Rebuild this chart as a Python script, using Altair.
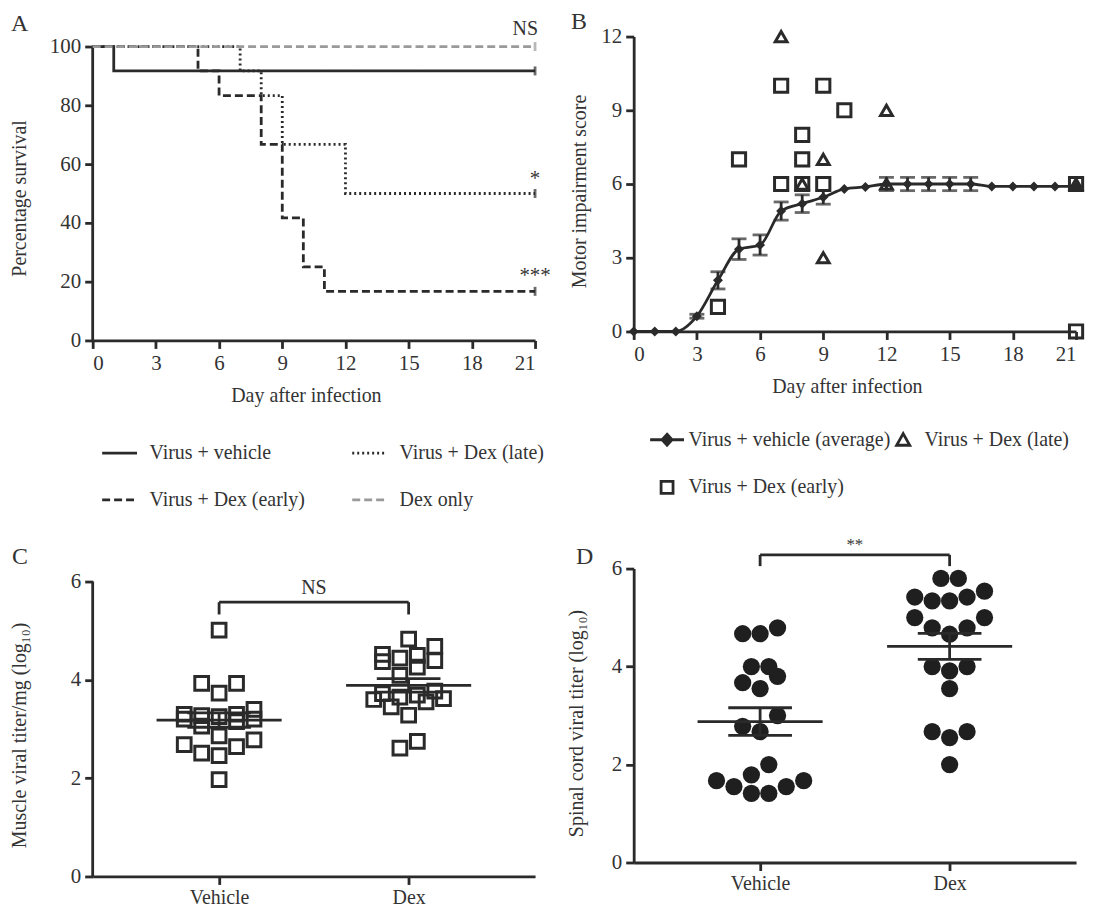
import altair as alt
import pandas as pd

FONT = "Liberation Serif"
INK = "#2a2a2a"
TXT = "#333333"
GRAY = "#9a9a9a"

# ---------------- Panel A: survival ----------------
a_series = ["Virus + vehicle", "Virus + Dex (early)", "Virus + Dex (late)", "Dex only"]
a_vehicle_day = [0, 1, 21]
a_vehicle_pct = [100, 91.7, 91.7]
a_late_day = [0, 7, 8, 9, 12, 21]
a_late_pct = [100, 91.7, 83.3, 66.7, 50.0, 50.0]
a_early_day = [0, 5, 6, 8, 9, 10, 11, 21]
a_early_pct = [100, 91.7, 83.3, 66.7, 41.7, 25.0, 16.7, 16.7]
a_dex_day = [0, 21]
a_dex_pct = [100, 100]
a_sig = {"Virus + Dex (late)": "*", "Virus + Dex (early)": "***", "Dex only": "NS"}

# ---------------- Panel B: motor score ----------------
b_series = ["Virus + vehicle (average)", "Virus + Dex (early)", "Virus + Dex (late)"]
b_day = list(range(22))
b_avg = [0, 0, 0, 0.62, 2.08, 3.35, 3.52, 4.9, 5.2, 5.46, 5.8, 5.88,
         6.0, 6.0, 6.0, 6.0, 6.0, 5.9, 5.9, 5.9, 5.9, 5.9]
b_sem = [0, 0, 0, 0.08, 0.35, 0.42, 0.41, 0.37, 0.36, 0.28, 0, 0,
         0.27, 0.27, 0.27, 0.27, 0.27, 0, 0, 0, 0, 0]
b_early_day = [4, 5, 7, 7, 8, 8, 8, 9, 9, 10, 21, 21]
b_early_score = [1, 7, 10, 6, 8, 7, 6, 10, 6, 9, 6, 0]
b_late_day = [7, 8, 9, 9, 12, 12, 21]
b_late_score = [12, 6, 7, 3, 9, 6, 6]

# ---------------- Panels C / D: viral titers ----------------
groups = ["Vehicle", "Dex"]
c_vehicle = [5.01, 3.93, 3.93, 3.73, 3.40, 3.30, 3.27, 3.30, 3.25, 3.20,
             3.15, 3.20, 3.06, 2.86, 2.68, 2.78, 2.64, 2.51, 2.46, 1.97]
c_dex = [4.83, 4.68, 4.52, 4.50, 4.44, 4.39, 4.37, 4.26, 4.09, 3.77,
         3.72, 3.69, 3.65, 3.62, 3.60, 3.55, 3.45, 3.28, 2.75, 2.61]
d_vehicle = [4.79, 4.67, 4.67, 4.00, 4.00, 3.80, 3.67, 3.55, 3.00, 2.78,
             2.67, 2.00, 1.79, 1.67, 1.67, 1.55, 1.55, 1.41, 1.41]
d_dex = [5.80, 5.80, 5.54, 5.42, 5.42, 5.34, 5.34, 5.00, 5.00, 4.79,
         4.79, 4.66, 4.00, 4.00, 3.91, 3.55, 2.67, 2.67, 2.55, 2.00]
c_bracket = {"top": 5.58, "foot": 5.33, "label": "NS"}
d_bracket = {"top": 6.28, "foot": 6.05, "label": "**"}

# ---------------- layout constants ----------------
W1, W2 = 444, 444
HA, HB, HC, HD = 305, 296, 309, 295
A_YMAX = 100 * HA / 295.0
C_YMAX = 6 * HC / 296.0
DOT_UNIT = 0.046      # horizontal step of the dot-plot layout (group units)
BIN = 0.345           # value range grouped into one row of the dot plot
LW = 2.8              # line width
FS_TICK, FS_TITLE, FS_LEG = 21, 20, 20


def prism_offsets(vals):
    order = sorted(range(len(vals)), key=lambda i: vals[i])
    bins, cur = [], []
    for i in order:
        if cur and vals[i] - vals[cur[0]] > BIN:
            bins.append(cur)
            cur = []
        cur.append(i)
    if cur:
        bins.append(cur)
    offs = [0] * len(vals)
    for b in bins:
        n = len(b)
        if n % 2:
            pat = [0] + [s * k for k in range(2, n + 1, 2) for s in (-1, 1)]
        else:
            pat = [s * k for k in range(1, n + 1, 2) for s in (-1, 1)]
        for i, p in zip(b, pat):
            offs[i] = p
    return offs


def letter(ch, x, y):
    return alt.Chart(pd.DataFrame({"p": [ch]})).mark_text(
        font=FONT, fontSize=24, color=TXT, align="left", baseline="alphabetic"
    ).encode(x=alt.value(x), y=alt.value(y), text="p:N")


# ======================= Panel A =======================
rows = []
for s, days, pcts in [("Virus + vehicle", a_vehicle_day, a_vehicle_pct),
                      ("Virus + Dex (late)", a_late_day, a_late_pct),
                      ("Virus + Dex (early)", a_early_day, a_early_pct),
                      ("Dex only", a_dex_day, a_dex_pct)]:
    for d, p in zip(days, pcts):
        rows.append({"series": s, "day": d, "pct": p})
df_a = pd.DataFrame(rows)
df_a_end = df_a.groupby("series", as_index=False).last()
df_a_end["sig"] = df_a_end["series"].map(a_sig).fillna("")

xa_scale = alt.Scale(domain=[0, 21], nice=False, zero=False)
ya_scale = alt.Scale(domain=[0, A_YMAX], nice=False)
xa_axis = alt.Axis(values=list(range(0, 22, 3)), title="Day after infection",
                   titleY=55, titleBaseline="middle", titleX=214)
ya_axis = alt.Axis(values=[0, 20, 40, 60, 80, 100], domain=False,
                   title="Percentage survival", titleAngle=270,
                   titleX=-73, titleY=162, titleAlign="center", titleBaseline="middle")


def XA(f):
    return alt.X(f, type="quantitative", scale=xa_scale, axis=xa_axis)


def YA(f):
    return alt.Y(f, type="quantitative", scale=ya_scale, axis=ya_axis)


leg_a = alt.Legend(orient="none", legendX=8, legendY=399, columns=2, title=None,
                   symbolType="stroke", symbolSize=1225, symbolStrokeWidth=LW,
                   columnPadding=40, rowPadding=18, labelOffset=11, labelLimit=400,
                   labelFont=FONT, labelFontSize=FS_LEG, labelColor=TXT)

a_lines = alt.Chart(df_a).mark_line(interpolate="step-after", strokeWidth=LW).encode(
    x=XA("day"), y=YA("pct"),
    color=alt.Color("series:N", scale=alt.Scale(domain=a_series, range=[INK, INK, INK, GRAY]),
                    legend=leg_a),
    strokeDash=alt.StrokeDash("series:N", scale=alt.Scale(domain=a_series,
                              range=[[1, 0], [8, 4], [2, 3], [8, 4]]), legend=leg_a),
)
a_ticks_k = alt.Chart(df_a_end[df_a_end["series"] != "Dex only"]).mark_tick(
    orient="vertical", size=9, thickness=LW, color=INK).encode(x=XA("day"), y=YA("pct"))
a_ticks_g = alt.Chart(df_a_end[df_a_end["series"] == "Dex only"]).mark_tick(
    orient="vertical", size=9, thickness=LW, color=GRAY).encode(x=XA("day"), y=YA("pct"))
a_sig_star = alt.Chart(df_a_end[df_a_end["sig"].str.startswith("*")]).mark_text(
    font=FONT, fontSize=21, color=TXT, align="center", baseline="alphabetic", dy=-9
).encode(x=XA("day"), y=YA("pct"), text="sig:N")
a_sig_ns = alt.Chart(df_a_end[df_a_end["sig"] == "NS"]).mark_text(
    font=FONT, fontSize=20, color=TXT, align="right", baseline="alphabetic", dy=-12, dx=3
).encode(x=XA("day"), y=YA("pct"), text="sig:N")
a_yline = alt.Chart(pd.DataFrame({"lo": [0], "hi": [100]})).mark_rule(
    strokeWidth=LW, color=INK).encode(x=alt.value(0), y=YA("lo"), y2="hi:Q")

panel_a = alt.layer(a_yline, a_lines, a_ticks_g, a_ticks_k, a_sig_star, a_sig_ns,
                    letter("A", -82, -6)).properties(width=W1, height=HA)

# ======================= Panel B =======================
df_b_avg = pd.DataFrame({"day": b_day, "score": b_avg, "sem": b_sem})
df_b_avg["lo"] = df_b_avg["score"] - df_b_avg["sem"]
df_b_avg["hi"] = df_b_avg["score"] + df_b_avg["sem"]
df_b_err = df_b_avg[df_b_avg["sem"] > 0]
df_b_early = pd.DataFrame({"day": b_early_day, "score": b_early_score, "series": "Virus + Dex (early)"})
df_b_late = pd.DataFrame({"day": b_late_day, "score": b_late_score, "series": "Virus + Dex (late)"})
df_b_all = pd.concat([df_b_avg[["day", "score"]].assign(series="Virus + vehicle (average)"),
                      df_b_late, df_b_early], ignore_index=True)

xb_scale = alt.Scale(domain=[0, 21], nice=False, zero=False)
yb_scale = alt.Scale(domain=[0, 12], nice=False)
xb_axis = alt.Axis(values=list(range(0, 22, 3)), title="Day after infection",
                   titleY=55, titleBaseline="middle", titleX=214)
yb_axis = alt.Axis(values=[0, 3, 6, 9, 12], title="Motor impairment score", titleAngle=270,
                   titleX=-54, titleY=155, titleAlign="center", titleBaseline="middle")


def XB(f):
    return alt.X(f, type="quantitative", scale=xb_scale, axis=xb_axis)


def YB(f):
    return alt.Y(f, type="quantitative", scale=yb_scale, axis=yb_axis)


P_AVG = "M-1.7,0L1.7,0M0,-0.55L0.5,0L0,0.55L-0.5,0Z"
P_TRI = "M0,-0.62L0.66,0.55L-0.66,0.55Z"
P_SQ = "M-0.6,-0.6L0.6,-0.6L0.6,0.6L-0.6,0.6Z"
leg_b = alt.Legend(orient="none", legendX=22, legendY=393, columns=2, title=None,
                   symbolSize=400, symbolStrokeWidth=LW, symbolOpacity=1,
                   columnPadding=0, rowPadding=24, labelOffset=10, labelLimit=400,
                   labelFont=FONT, labelFontSize=FS_LEG, labelColor=TXT)

b_line = alt.Chart(df_b_avg).mark_line(interpolate="monotone", strokeWidth=LW, color=INK).encode(
    x=XB("day"), y=YB("score"))
b_err = alt.Chart(df_b_err).mark_rule(strokeWidth=LW, color=INK).encode(
    x=XB("day"), y=YB("lo"), y2="hi:Q")
b_cap_lo = alt.Chart(df_b_err).mark_tick(orient="horizontal", size=15, thickness=LW, color=INK).encode(
    x=XB("day"), y=YB("lo"))
b_cap_hi = alt.Chart(df_b_err).mark_tick(orient="horizontal", size=15, thickness=LW, color=INK).encode(
    x=XB("day"), y=YB("hi"))
b_dia = alt.Chart(df_b_avg).mark_point(shape="diamond", filled=True, size=100, color=INK, opacity=1).encode(
    x=XB("day"), y=YB("score"))
b_sq = alt.Chart(df_b_early).mark_point(shape="square", filled=False, size=175, strokeWidth=3,
                                         color=INK, opacity=1).encode(x=XB("day"), y=YB("score"))
b_tri = alt.Chart(df_b_late).mark_point(shape="triangle-up", filled=False, size=140, strokeWidth=3,
                                         color=INK, opacity=1).encode(x=XB("day"), y=YB("score"))
b_legend_host = alt.Chart(df_b_all).mark_point(opacity=0, filled=False).encode(
    x=XB("day"), y=YB("score"),
    shape=alt.Shape("series:N", scale=alt.Scale(domain=b_series, range=[P_AVG, P_SQ, P_TRI]), legend=leg_b),
    fill=alt.Fill("series:N", scale=alt.Scale(domain=b_series, range=[INK, "white", "white"]), legend=leg_b),
    stroke=alt.Stroke("series:N", scale=alt.Scale(domain=b_series, range=[INK, INK, INK]), legend=leg_b),
)
panel_b = alt.layer(b_line, b_err, b_cap_lo, b_cap_hi, b_dia, b_sq, b_tri, b_legend_host,
                    letter("B", -63, -8)).properties(width=W2, height=HB)


# ======================= Panels C / D =======================
def titer_panel(veh, dex, ymax, height, width, ytitle, ty, tx, bracket, filled, let, lx, ly, dy_lab,
                fs_lab, axis_line):
    vals = veh + dex
    g = [0] * len(veh) + [1] * len(dex)
    offs = prism_offsets(veh) + prism_offsets(dex)
    df = pd.DataFrame({"g": g, "v": vals})
    df["xpos"] = [gi + o * DOT_UNIT for gi, o in zip(g, offs)]
    xs = alt.Scale(domain=[-0.667, 1.667], nice=False, zero=False)
    ys = alt.Scale(domain=[0, ymax], nice=False)
    xax = alt.Axis(values=[0, 1], title=None, labelExpr="datum.value == 0 ? 'Vehicle' : 'Dex'",
                   labelPadding=3, labelFontSize=20)
    yax = alt.Axis(values=[0, 2, 4, 6], title=ytitle, titleAngle=270, domain=not axis_line,
                   titleX=tx, titleY=ty, titleAlign="center", titleBaseline="middle")

    def X(f):
        return alt.X(f, type="quantitative", scale=xs, axis=xax)

    def Y(f):
        return alt.Y(f, type="quantitative", scale=ys, axis=yax)

    if filled:
        pts = alt.Chart(df).mark_circle(size=300, color="#1f1f1f", opacity=1).encode(x=X("xpos"), y=Y("v"))
    else:
        pts = alt.Chart(df).mark_point(shape="square", filled=False, size=190, strokeWidth=3,
                                       color=INK, opacity=1).encode(x=X("xpos"), y=Y("v"))
    stats = alt.Chart(df).transform_aggregate(
        m="mean(v)", s="stderr(v)", groupby=["g"]
    ).transform_calculate(
        lo="datum.m - datum.s", hi="datum.m + datum.s",
        ml="datum.g - 0.33", mr="datum.g + 0.33",
        cl="datum.g - 0.168", cr="datum.g + 0.168")
    mean_rule = stats.mark_rule(strokeWidth=LW, color=INK).encode(x=X("ml"), x2="mr:Q", y=Y("m"))
    sem_rule = stats.mark_rule(strokeWidth=LW, color=INK).encode(x=X("g"), y=Y("lo"), y2="hi:Q")
    cap_lo = stats.mark_rule(strokeWidth=LW, color=INK).encode(x=X("cl"), x2="cr:Q", y=Y("lo"))
    cap_hi = stats.mark_rule(strokeWidth=LW, color=INK).encode(x=X("cl"), x2="cr:Q", y=Y("hi"))
    br = pd.DataFrame({"g": [0, 1], "top": [bracket["top"]] * 2, "foot": [bracket["foot"]] * 2})
    br_h = alt.Chart(br).transform_aggregate(
        g0="min(g)", g1="max(g)", top="max(top)").mark_rule(strokeWidth=LW, color=INK).encode(
        x=X("g0"), x2="g1:Q", y=Y("top"))
    br_v = alt.Chart(br).mark_rule(strokeWidth=LW, color=INK).encode(x=X("g"), y=Y("foot"), y2="top:Q")
    br_t = alt.Chart(pd.DataFrame({"g": [0.5], "top": [bracket["top"]], "lab": [bracket["label"]]})).mark_text(
        font=FONT, fontSize=fs_lab, color=TXT, baseline="alphabetic", dy=dy_lab).encode(
        x=X("g"), y=Y("top"), text="lab:N")
    layers = [pts, mean_rule, sem_rule, cap_lo, cap_hi, br_h, br_v, br_t, letter(let, lx, ly)]
    if axis_line:
        ax = alt.Chart(pd.DataFrame({"lo": [0], "hi": [6]})).mark_rule(strokeWidth=LW, color=INK).encode(
            x=alt.value(0), y=Y("lo"), y2="hi:Q")
        layers = [ax] + layers
    return alt.layer(*layers).properties(width=width, height=height)


panel_c = titer_panel(c_vehicle, c_dex, C_YMAX, HC, W1, "Muscle viral titer/mg (log\u2081\u2080)",
                      167, -73, c_bracket, False, "C", -81, -5, -8, 20, True)
panel_d = titer_panel(d_vehicle, d_dex, 6, HD, W2, "Spinal cord viral titer (log\u2081\u2080)",
                      155, -57, d_bracket, True, "D", -58, -5, -5, 17, False)

chart = alt.concat(panel_a, panel_b, panel_c, panel_d, columns=2,
                   spacing={"row": 229, "column": 99}, bounds="flush").resolve_scale(
    color="independent", strokeDash="independent", shape="independent", fill="independent",
    stroke="independent", x="independent", y="independent"
).properties(padding={"left": 2, "top": 0, "right": 0, "bottom": 0}).configure_axis(
    labelFont=FONT, titleFont=FONT, labelFontSize=FS_TICK, titleFontSize=FS_TITLE, titleFontWeight="normal",
    labelColor=TXT, titleColor=TXT, domainColor=INK, domainWidth=LW, tickColor=INK, tickWidth=LW,
    tickSize=8, grid=False, labelPadding=4
).configure_view(stroke=None)

chart.save("out.html", embed_options={"renderer": "svg", "actions": False})
